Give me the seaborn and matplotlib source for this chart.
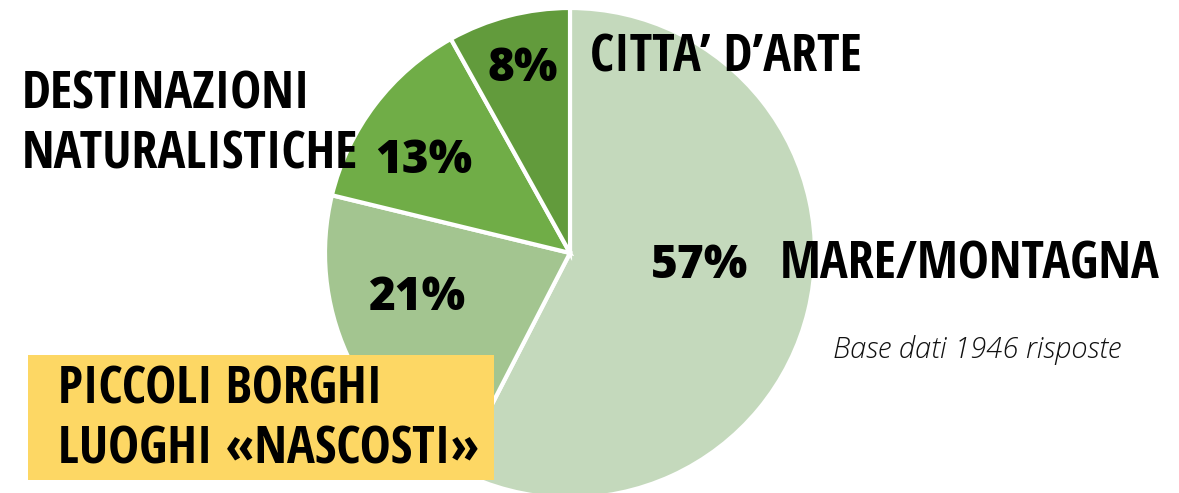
import matplotlib
matplotlib.use("Agg")
import matplotlib.pyplot as plt
import seaborn as sns

# data
categories = ["MARE/MONTAGNA", "PICCOLI BORGHI\nLUOGHI «NASCOSTI»",
              "DESTINAZIONI\nNATURALISTICHE", "CITTA’ D’ARTE"]
shares = [57, 21, 13, 8]
pct_labels = ["57%", "21%", "13%", "8%"]
colors = ["#c4d9bc", "#a3c590", "#70ad47", "#629b3c"]
note = "Base dati 1946 risposte"

sns.set_theme(style="white")
plt.rcParams["font.family"] = ["Open Sans", "DejaVu Sans"]
plt.rcParams["text.color"] = "black"

W, H = 1179, 493
fig = plt.figure(figsize=(W / 100, H / 100), dpi=100)
ax = fig.add_axes([0, 0, 1, 1])

# pie in pixel coords, start at 12 o'clock, clockwise
cx, cy, r = 570, H - 253, 245
wedges, _ = ax.pie(shares, colors=colors, startangle=90, counterclock=False,
                   center=(cx, cy), radius=r, frame=True,
                   wedgeprops=dict(edgecolor="white", linewidth=3))
ax.set_xlim(0, W)
ax.set_ylim(0, H)
ax.set_aspect("equal")
ax.axis("off")

# percentage labels
pct_pos = [(700, H - 266), (418, H - 298), (424, H - 161), (523, H - 69)]
for (x, y), t in zip(pct_pos, pct_labels):
    ax.text(x, y, t, ha="center", va="center", fontsize=33,
            fontweight=800, family=["Open Sans", "DejaVu Sans"])

# category labels
cond = ["Open Sans Condensed", "DejaVu Sans"]
lab = dict(fontsize=37.5, fontweight="bold", family=cond, fontstretch="condensed")
ax.text(780, H - 265, categories[0], ha="left", va="center", **lab)
ax.text(22, H - 125, categories[2], ha="left", va="center",
        linespacing=1.18, **lab)
ax.text(590, H - 58, categories[3], ha="left", va="center", **lab)

# yellow highlight box
ax.add_patch(plt.Rectangle((28, H - 480), 466, 125, facecolor="#fdd764",
                           edgecolor="none", zorder=3))
ax.text(58, H - 420, categories[1], ha="left", va="center",
        linespacing=1.18, zorder=4, **lab)

ax.text(977, H - 350, note, ha="center", va="center", fontsize=21,
        style="italic", fontweight=300, color="#111111")

fig.savefig("out.png", dpi=100)
